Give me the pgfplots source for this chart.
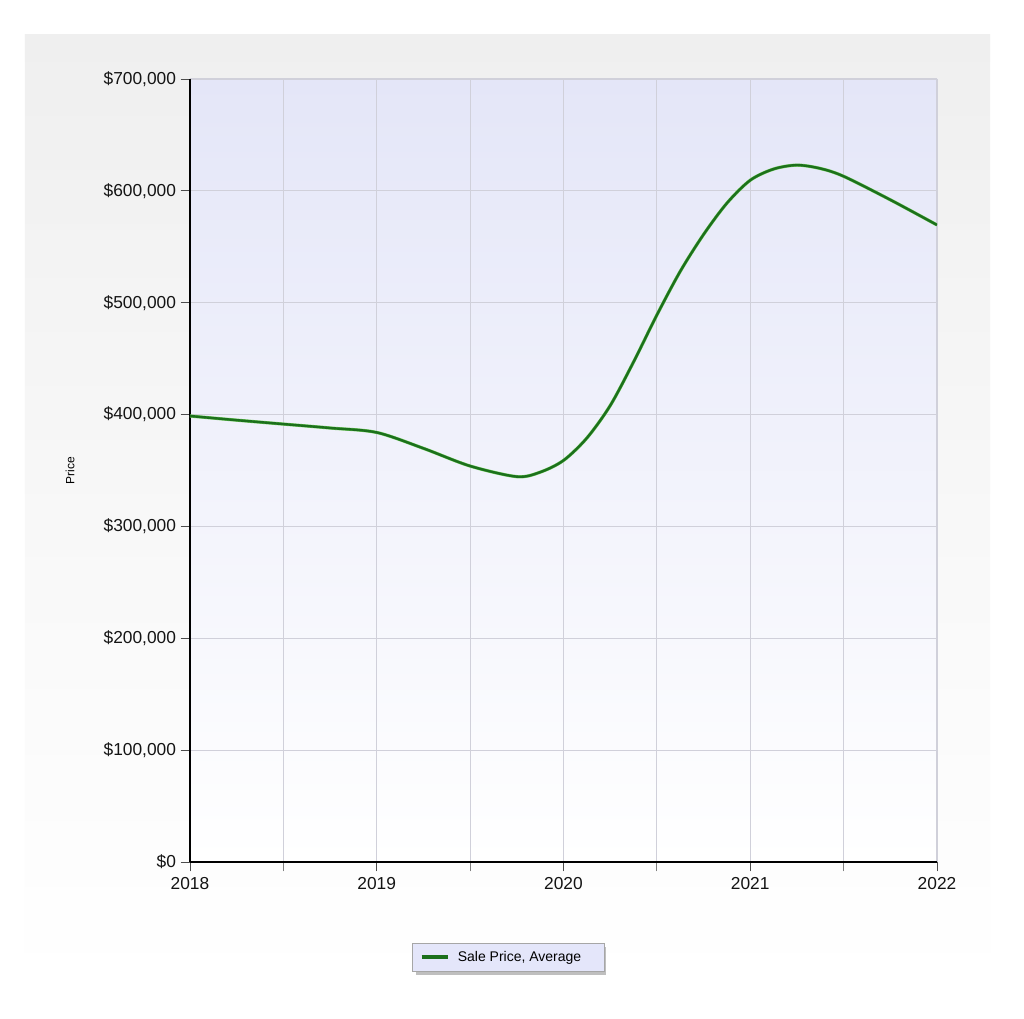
\documentclass[border=0pt]{standalone}
\usepackage{fontspec}
\setmainfont{Liberation Sans}
\usepackage{pgfplots}
\pgfplotsset{compat=1.18}
\definecolor{plotbg}{RGB}{228,230,248}
\definecolor{legbg}{RGB}{228,230,250}
\definecolor{gridc}{RGB}{208,208,218}
\definecolor{linec}{RGB}{28,112,28}
\definecolor{haloc}{RGB}{110,200,90}
\definecolor{panel}{RGB}{239,239,239}
\definecolor{txt}{RGB}{20,20,20}
\pgfplotstableread{
x y
2018 398700
2018.25 395000
2018.5 391500
2018.75 388000
2019 384000
2019.25 369800
2019.5 354000
2019.75 344500
2019.875 348500
2020 359000
2020.125 379000
2020.25 408000
2020.375 447000
2020.5 489000
2020.625 528000
2020.75 561000
2020.875 589000
2021 609500
2021.125 619500
2021.25 623000
2021.375 620000
2021.5 613000
2021.75 592000
2022 569500
}\pricedata
\begin{document}
\begin{tikzpicture}
\fill[white] (-142.5pt,-117pt) rectangle (625.5pt,646.5pt);
\shade[top color=panel, bottom color=white, middle color=panel!45!white] (-123.75pt,-92.25pt) rectangle (600pt,620.25pt);
% legend shadow
\fill[gray!50] (169.5pt,-84.75pt) rectangle (312pt,-63.75pt);
\useasboundingbox (-142.5pt,-117pt) rectangle (625.5pt,646.5pt);
\begin{axis}[
  at={(0pt,0pt)}, anchor=south west,
  scale only axis, width=560.25pt, height=587.25pt,
  xmin=2018, xmax=2022, ymin=0, ymax=700000,
  xtick={2018,2019,2020,2021,2022},
  xticklabels={2018,2019,2020,2021,2022},
  minor xtick={2018.5,2019.5,2020.5,2021.5},
  ytick={0,100000,200000,300000,400000,500000,600000,700000},
  yticklabels={{\$0},{\$100,000},{\$200,000},{\$300,000},{\$400,000},{\$500,000},{\$600,000},{\$700,000}},
  scaled y ticks=false,
  grid=both,
  major grid style={gridc, line width=0.8pt},
  minor grid style={gridc, line width=0.8pt},
  axis lines=left,
  axis line style={-, black, line width=1.1pt},
  tick align=outside,
  major tick length=7pt, minor tick length=7pt,
  major tick style={black!70, line width=0.6pt},
  minor tick style={black!50, line width=0.6pt},
  ticklabel style={font=\fontsize{13}{15}\selectfont, text=txt},
  xticklabel style={yshift=-1pt},
  axis background/.style={shade, top color=plotbg, bottom color=white},
  ylabel={Price},
  ylabel style={font=\fontsize{9}{11}\selectfont, at={(rel axis cs:-0.1606,0.5)}, anchor=center},
  legend style={at={(0.4257,-0.1213)}, anchor=center, fill=legbg, draw=gray!70,
    font=\fontsize{10.5}{12}\selectfont, inner xsep=6pt, inner ysep=4pt},
  legend cell align=left,
  legend image code/.code={\draw[line width=2.3pt] (0pt,0pt) -- (20pt,0pt);},
]
\addplot[haloc, line width=2.4pt, smooth, forget plot] table[x=x,y=y] {\pricedata};
\addplot[linec, line width=1.8pt, smooth] table[x=x,y=y] {\pricedata};
\addlegendentry{\hspace*{4pt}Sale Price, Average\rule{9pt}{0pt}}
\end{axis}
\end{tikzpicture}
\end{document}
